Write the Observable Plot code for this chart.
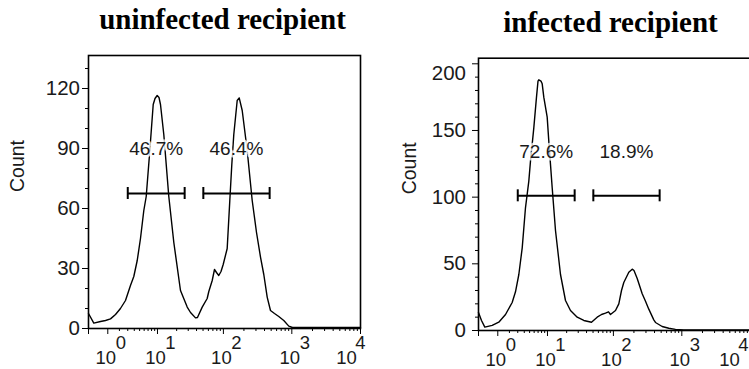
<!DOCTYPE html>
<html><head><meta charset="utf-8">
<script src="https://cdn.jsdelivr.net/npm/d3@7"></script>
<script src="https://cdn.jsdelivr.net/npm/@observablehq/plot@0.6"></script>
<style>
body{margin:0;background:#fff;overflow:hidden}
#wrap{position:relative;width:749px;height:369px;overflow:hidden;background:#fff}
#wrap > svg{position:absolute;top:0}
</style></head><body><div id="wrap"></div>
<script>
// ---- data ----
const titles = ["uninfected recipient", "infected recipient"];
const percentLeft = ["46.7%", "46.4%"];
const percentRight = ["72.6%", "18.9%"];
const gateStart = [3, 50.5];
const gateEnd = [26.5, 475];
const gateYLeft = 67.5, gateYRight = 101;
const pctYLeft = 90, pctYRight = 134;

const xLeft = [0, 0.214, 0.545, 0.845, 1.2, 1.62, 2.11, 2.7, 3.39, 3.92, 4.53, 5.18, 5.92, 6.51, 7.4, 8.52, 9.12, 9.89, 10.58, 11.18, 12.62, 15.12, 18.09, 22.9, 28.96, 32.5, 38.6, 41.3, 48.6, 57.6, 60.9, 68.4, 73.9, 79.1, 85.5, 92.2, 99.3, 113.7, 124.2, 132.9, 142.1, 159.4, 170.6, 188.8, 223.4, 264.3, 305.5, 349.4, 390.3, 437.4, 488.6, 558.9, 645.7, 763.6, 903.4, 1022.8, 10000];
const countLeft = [7.5, 2.7, 3.5, 4, 4.8, 7, 10, 14, 21.5, 26, 34, 45, 59, 66, 87, 112, 115, 116.5, 115.5, 112, 97, 66, 43, 19, 10.7, 8, 5.3, 5.5, 10.7, 15, 18.5, 24, 29.5, 28, 26.5, 28.5, 32, 40, 64, 82, 97, 114, 115.3, 109, 89, 64, 48, 35.7, 27, 15.7, 9, 7.5, 6, 4, 1.2, 0.5, 0.5];

const xRight = [0, 0.116, 0.259, 0.641, 1.07, 1.62, 2.3, 2.7, 3.15, 3.66, 4.21, 4.84, 5.18, 5.92, 6.58, 6.98, 7.2, 7.83, 8.2, 8.71, 9.89, 10.5, 11.9, 13.42, 16.07, 19.2, 22.9, 28.96, 36.4, 47.4, 57.6, 66.8, 76.4, 84.7, 90.6, 107.4, 120.1, 131.5, 142.1, 168.3, 188.8, 200.5, 223.4, 264.3, 295.4, 330, 390.3, 413.2, 517.2, 645.7, 808.3, 1068, 10000];
const countRight = [13.5, 7.5, 2.5, 3.8, 6.2, 12, 21, 29, 42, 62, 92, 112, 127, 152, 175, 187, 188, 187, 185, 175, 160, 142, 107, 75, 42, 22.5, 15, 10, 7.5, 6.2, 10, 12, 13, 14, 12, 15, 20, 30, 36, 43.7, 46, 45, 39, 27.5, 22, 16, 8, 6, 3, 1.7, 0.8, 0.5, 0.5];

const xMajor = [1, 10, 100, 1000, 10000];
const xMinor = [2,3,4,5,6,7,8,9,20,30,40,50,60,70,80,90,200,300,400,500,600,700,800,900,2000,3000,4000,5000,6000,7000,8000,9000];
const yMajorLeft = [0, 30, 60, 90, 120];
const yMinorLeft = [10, 20, 40, 50, 70, 80, 100, 110, 130];
const yMajorRight = [0, 50, 100, 150, 200];
const yMinorRight = [10,20,30,40,60,70,80,90,110,120,130,140,160,170,180,190];

// ---- drawing ----
const SYM = 1.1;
const sym = v => Math.sign(v) * Math.log1p(Math.abs(v) / SYM);
const unsym = t => Math.sign(t) * SYM * Math.expm1(Math.abs(t));
const SANS = "Liberation Sans, Arial, Helvetica, sans-serif";

function panel(o) {
  const mids = gateStart.map((a, i) => unsym((sym(a) + sym(gateEnd[i])) / 2));
  const xEdge = [0];
  const lastTick = xMajor.slice(-1), otherTicks = xMajor.slice(0, -1);
  const topLabel = o.yMajor.slice(-1), otherLabels = o.yMajor.slice(0, -1);
  const expo = d => String(Math.round(Math.log10(d)));
  const labelOpts = {frameAnchor: "bottom", fontSize: 18.5, fill: "#1a1a1a", fontFamily: SANS, lineAnchor: "bottom"};
  const svg = Plot.plot({
    width: 375, height: 369,
    marginLeft: 88, marginRight: 15, marginTop: o.mt, marginBottom: o.mb,
    style: {fontFamily: SANS, background: "transparent", overflow: "visible"},
    x: {type: "symlog", constant: SYM, domain: [0, 10000], axis: null},
    y: {domain: [0, o.yMax], axis: null},
    marks: [
      Plot.axisX([...xEdge, ...xMajor], {tickSize: 6, fill: "none", label: null, stroke: "black"}),
      Plot.axisX(xMinor, {tickSize: 3, fill: "none", label: null, stroke: "black"}),
      Plot.axisY(o.yMajor, {tickSize: 6, fill: "none", label: null, stroke: "black"}),
      Plot.axisY(o.yMinor, {tickSize: 3, fill: "none", label: null, stroke: "black"}),
      Plot.axisY(otherLabels, {tickSize: 0, tickPadding: o.pad, fontSize: 20.5, fill: "#1a1a1a", label: null}),
      Plot.axisY(topLabel, {tickSize: 0, tickPadding: o.pad, fontSize: 20.5, fill: "#1a1a1a", label: null, dy: o.topDy}),
      // x tick labels: "10" + exponent
      Plot.text(otherTicks, {...labelOpts, x: d => d, text: () => "10", dx: -2, dy: 35}),
      Plot.text(otherTicks, {...labelOpts, x: d => d, text: expo, dx: 13, dy: 20}),
      Plot.text(lastTick, {...labelOpts, x: d => d, text: () => "10", dx: o.lastDx - 14, dy: 35}),
      Plot.text(lastTick, {...labelOpts, x: d => d, text: expo, dx: o.lastDx, dy: 20}),
      Plot.line(o.xs, {x: o.xs, y: o.ys, stroke: "black", strokeWidth: 1.4, strokeLinejoin: "round"}),
      Plot.ruleY(gateStart, {x1: gateStart, x2: gateEnd, y: gateStart.map(() => o.gateY), stroke: "black", strokeWidth: 2}),
      Plot.ruleX([...gateStart, ...gateEnd], {x: d => d, y1: () => o.gateY, y2: () => o.gateY, insetTop: -6, insetBottom: -6, stroke: "black", strokeWidth: 2}),
      Plot.text(o.pct, {x: mids, y: o.pct.map(() => o.pctY), text: d => d, fontSize: 19, fill: "#1a1a1a", stroke: "white", strokeOpacity: 0.75, strokeWidth: 5, fontFamily: SANS}),
      Plot.frame({stroke: "black", strokeWidth: 1.6}),
      Plot.text(["Count"], {frameAnchor: "left", dx: o.countDx, rotate: -90, fontSize: 19.5, fill: "#1a1a1a", fontFamily: SANS}),
      Plot.text([o.title], {frameAnchor: "top", dy: o.titleDy, dx: o.titleDx, lineAnchor: "bottom", fontSize: 29, fontWeight: "bold", fontFamily: "Liberation Serif, Times New Roman, serif", fill: "black"})
    ]
  });
  svg.style.left = o.left + "px";
  document.getElementById("wrap").appendChild(svg);
}

panel({title: titles[0], xs: xLeft, ys: countLeft, yMax: 136.5, yMajor: yMajorLeft, yMinor: yMinorLeft,
  gateY: gateYLeft, pctY: pctYLeft, pct: percentLeft, left: 0, mt: 55, mb: 41, pad: 8.5, topDy: 0,
  countDx: -71, titleDx: -2, titleDy: -27, lastDx: 0});
panel({title: titles[1], xs: xRight, ys: countRight, yMax: 204.2, yMajor: yMajorRight, yMinor: yMinorRight,
  gateY: gateYRight, pctY: pctYRight, pct: percentRight, left: 390, mt: 57.7, mb: 39, pad: 12.5, topDy: 10,
  countDx: -69, titleDx: -4, titleDy: -26.7, lastDx: -7});
</script></body></html>
